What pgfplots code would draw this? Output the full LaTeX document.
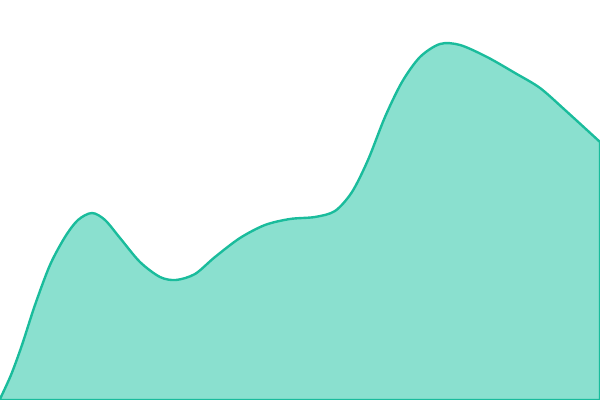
\documentclass[border=0pt]{standalone}
\usepackage{pgfplots}
\pgfplotsset{compat=1.18}
\definecolor{lineC}{HTML}{1ABC9C}
\definecolor{fillC}{HTML}{8AE0CF}
\begin{document}
\begin{tikzpicture}
\begin{axis}[
  scale only axis, width=15cm, height=10cm,
  xmin=0, xmax=600, ymin=0, ymax=400,
  hide axis, clip=true,
]
\addplot[draw=lineC, line width=1.7pt, fill=fillC, smooth, tension=0.5] coordinates {
(0,1) (11,25) (22,55) (35,95) (50,135) (65,163) (78,180) (92,187) (105,180) (120,162) (140,138) (160,123) (176,120) (195,126) (215,143) (240,162) (265,175) (290,181) (315,183) (335,189) (352,208) (368,240) (385,283) (402,318) (420,343) (440,356) (460,355) (487,343) (515,327) (540,312) (565,290) (600,258)
} \closedcycle;
\end{axis}
\path (current axis.south west) rectangle (current axis.north east);
\end{tikzpicture}
\end{document}
